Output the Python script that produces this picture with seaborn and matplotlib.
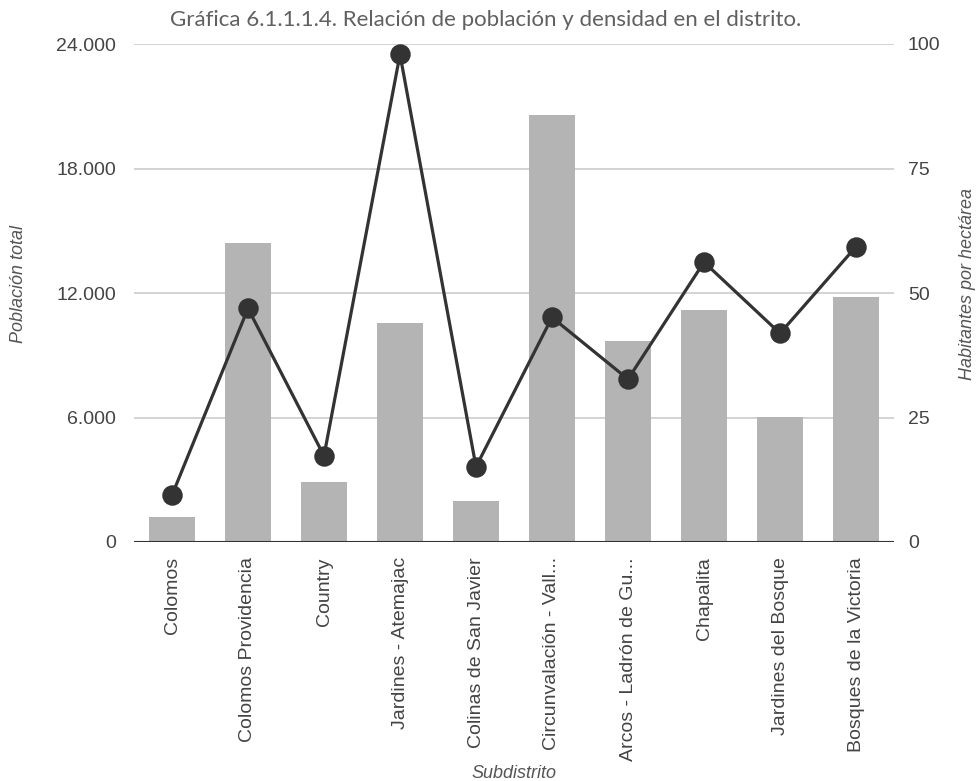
import matplotlib
matplotlib.use("Agg")
import matplotlib.pyplot as plt
import seaborn as sns
import pandas as pd
from matplotlib.ticker import FuncFormatter

# Data
subdistritos = [
    "Colomos", "Colomos Providencia", "Country", "Jardines - Atemajac",
    "Colinas de San Javier", "Circunvalación - Vall...", "Arcos - Ladrón de Gu...",
    "Chapalita", "Jardines del Bosque", "Bosques de la Victoria",
]
poblacion = [1220, 14400, 2880, 10570, 2000, 20600, 9700, 11200, 6040, 11800]
densidad = [9.4, 46.9, 17.3, 97.9, 15.1, 45.1, 32.7, 56.2, 41.9, 59.3]
left_ticks = [0, 6000, 12000, 18000, 24000]
right_ticks = [0, 25, 50, 75, 100]

df = pd.DataFrame({"sub": subdistritos, "pob": poblacion, "dens": densidad})

sns.set_style("white")
plt.rcParams["font.family"] = ["Liberation Sans", "DejaVu Sans"]

fig = plt.figure(figsize=(9.77, 7.81), dpi=100)
ax = fig.add_axes([134 / 977, 1 - 542 / 781, 760 / 977, 498 / 781])

# bars: population on the left axis
sns.barplot(data=df, x="sub", y="pob", color="#b4b4b4", saturation=1,
            width=0.6, linewidth=0, edgecolor="none", ax=ax, zorder=2)
ax.set_ylim(0, 24000)
ax.set_xlim(-0.5, len(subdistritos) - 0.5)
ax.set_yticks(left_ticks)
ax.yaxis.set_major_formatter(FuncFormatter(lambda v, p: f"{int(v):,}".replace(",", ".")))
ax.grid(axis="y", color="#cccccc", linewidth=1.2, zorder=0)
ax.set_axisbelow(True)
for s in ax.spines.values():
    s.set_visible(False)
ax.axhline(0, color="#333333", linewidth=1.5, zorder=3)
ax.tick_params(axis="y", length=0, pad=13, labelsize=14, labelcolor="#444444")
ax.tick_params(axis="x", length=0, pad=11, labelsize=14, labelcolor="#444444",
               rotation=90)
ax.set_xlabel("")
ax.set_ylabel("")

# line: density on the right axis
ax2 = ax.twinx()
sns.pointplot(data=df, x="sub", y="dens", color="#333333", markers="o",
              markersize=13, linewidth=2.3, ax=ax2)
ax2.set_ylim(0, 100)
ax2.set_xlim(-0.5, len(subdistritos) - 0.5)
ax2.set_yticks(right_ticks)
for s in ax2.spines.values():
    s.set_visible(False)
ax2.tick_params(axis="y", length=0, pad=10, labelsize=14, labelcolor="#444444")
ax2.set_ylabel("")
ax2.set_xlabel("")

fig.text(0.497, 0.974, "Gráfica 6.1.1.1.4. Relación de población y densidad en el distrito.",
         ha="center", va="center", fontsize=16, color="#606060", family=["Lato", "DejaVu Sans"])
fig.text(0.019, 0.636, "Población total", rotation=90, ha="center", va="center",
         fontsize=13, style="italic", color="#555555")
fig.text(0.990, 0.636, "Habitantes por hectárea", rotation=90, ha="center", va="center",
         fontsize=13, style="italic", color="#555555")
fig.text(0.526, 0.010, "Subdistrito", ha="center", va="center",
         fontsize=13, style="italic", color="#555555")

fig.savefig("out.png", dpi=100)
